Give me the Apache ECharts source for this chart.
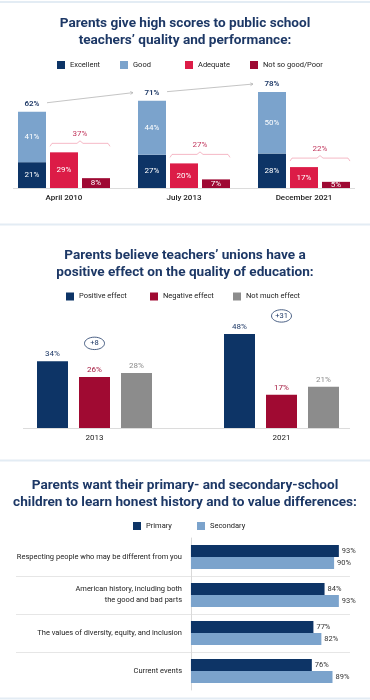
<!DOCTYPE html>
<html><head><meta charset="utf-8">
<script src="https://cdn.jsdelivr.net/npm/echarts@6/dist/echarts.min.js"></script>
<style>html,body{margin:0;padding:0;background:#fff}#c{width:370px;height:700px}</style>
</head><body><div id="c"></div>
<script>
// ---------- data ----------
const c1Categories = ['April 2010', 'July 2013', 'December 2021'];
const c1Excellent = [21, 27, 28];
const c1Good = [41, 44, 50];
const c1Total = [62, 71, 78];
const c1Adequate = [29, 20, 17];
const c1Poor = [8, 7, 5];
const c1NotGoodTotal = [37, 27, 22];

const c2Categories = ['2013', '2021'];
const c2Positive = [34, 48];
const c2Negative = [26, 17];
const c2NotMuch = [28, 21];
const c2Change = ['+8', '+31'];

const c3Categories = [
  'Respecting people who may be different from you',
  'American history, including both\nthe good and bad parts',
  'The values of diversity, equity, and inclusion',
  'Current events'
];
const c3Primary = [93, 84, 77, 76];
const c3Secondary = [90, 93, 82, 89];

// ---------- styles ----------
const FONT = 'Roboto, "Noto Sans", sans-serif';
const NAVY = '#0d3466';
const TITLE = '#1d3866';
const LIGHTBLUE = '#7ba3cc';
const CRIMSON = '#dc1c47';
const DARKRED = '#9e0933';
const GRAY = '#8c8c8c';
const C1_BAR = 28, C1_GAP = 4;
const C2_BAR = 31, C2_GAP = 11;

function pct(p) { return p.value + '%'; }

function renderC1(params, api) {
  const i = api.value(0);
  const off = C1_BAR + C1_GAP;
  const t = api.coord([i, c1Total[i]]);
  const lx = t[0] - off, ly = t[1] - 8;
  const ch = [];
  ch.push({type: 'text', x: lx, y: ly, style: {text: c1Total[i] + '%', fill: TITLE, font: '600 8px ' + FONT, textAlign: 'center', textVerticalAlign: 'middle'}});
  if (i < c1Total.length - 1) {
    const n = api.coord([i + 1, c1Total[i + 1]]);
    const x1 = lx + 15, y1 = ly - 1, x2 = n[0] - off - 19, y2 = n[1] - 8;
    const a = Math.atan2(y2 - y1, x2 - x1);
    const L = 3;
    ch.push({type: 'line', shape: {x1, y1, x2, y2}, style: {stroke: '#b5b5b5', lineWidth: 0.8}});
    ch.push({type: 'polyline', shape: {points: [
      [x2 - L * Math.cos(a - 0.5), y2 - L * Math.sin(a - 0.5)], [x2, y2],
      [x2 - L * Math.cos(a + 0.5), y2 - L * Math.sin(a + 0.5)]]},
      style: {stroke: '#b5b5b5', lineWidth: 0.8, fill: null}});
  }
  const b = api.coord([i, Math.max(c1Adequate[i], c1Poor[i])]);
  const bx1 = b[0] - C1_BAR / 2, bx2 = b[0] + off + C1_BAR / 2, mid = (bx1 + bx2) / 2, by = b[1] - 9;
  ch.push({type: 'polyline', shape: {points: [[bx1, by + 3], [bx1 + 2, by], [mid - 3, by], [mid, by - 2.5], [mid + 3, by], [bx2 - 2, by], [bx2, by + 3]]},
    style: {stroke: '#f2a7b8', lineWidth: 0.8, fill: null}});
  ch.push({type: 'text', x: mid, y: by - 9, style: {text: c1NotGoodTotal[i] + '%', fill: '#c2385e', font: '8px ' + FONT, textAlign: 'center', textVerticalAlign: 'middle'}});
  return {type: 'group', children: ch};
}

function renderC2(params, api) {
  const i = api.value(0);
  const p = api.coord([i, c2Positive[i]]);
  const cx = p[0], cy = p[1] - 18;
  return {type: 'group', children: [
    {type: 'ellipse', shape: {cx, cy, rx: 10, ry: 6.2}, style: {stroke: TITLE, lineWidth: 0.8, fill: '#fff'}},
    {type: 'text', x: cx, y: cy, style: {text: c2Change[i], fill: TITLE, font: '7.5px ' + FONT, textAlign: 'center', textVerticalAlign: 'middle'}}
  ]};
}

const legendBase = {orient: 'horizontal', padding: 0, itemWidth: 8, itemHeight: 8, icon: 'rect', selectedMode: false,
  textStyle: {fontSize: 7.5, color: '#222', fontFamily: FONT}};
function lg(name, left, cy) { return Object.assign({}, legendBase, {data: [name], left: left, top: cy - 5}); }

const titleStyle = {fontSize: 13.6, fontWeight: 'bold', color: TITLE, lineHeight: 17, fontFamily: FONT};

const option = {
  animation: false,
  textStyle: {fontFamily: FONT},
  title: [
    {text: 'Parents give high scores to public school\nteachers’ quality and performance:', left: 'center', top: 15.5, padding: 0, textStyle: titleStyle},
    {text: 'Parents believe teachers’ unions have a\npositive effect on the quality of education:', left: 'center', top: 247.5, padding: 0, textStyle: titleStyle},
    {text: 'Parents want their primary- and secondary-school\nchildren to learn honest history and to value differences:', left: 'center', top: 477.5, padding: 0, textStyle: titleStyle}
  ],
  legend: [
    lg('Excellent', 57, 66), lg('Good', 120, 66), lg('Adequate', 185, 66), lg('Not so good/Poor', 250, 66),
    lg('Positive effect', 66, 297.5), lg('Negative effect', 150, 297.5), lg('Not much effect', 233, 297.5),
    lg('Primary', 133, 527), lg('Secondary', 197, 527)
  ],
  graphic: [
    {type: 'rect', shape: {x: 0, y: 1, width: 370, height: 2}, style: {fill: '#e3ecf4'}},
    {type: 'rect', shape: {x: 0, y: 223.5, width: 370, height: 2}, style: {fill: '#e3ecf4'}},
    {type: 'rect', shape: {x: 0, y: 459.5, width: 370, height: 2}, style: {fill: '#e3ecf4'}},
    {type: 'rect', shape: {x: 0, y: 697.5, width: 370, height: 2}, style: {fill: '#e3ecf4'}},
    {type: 'line', shape: {x1: 13, y1: 188.5, x2: 355, y2: 188.5}, style: {stroke: '#dcdcdc', lineWidth: 1}},
    {type: 'line', shape: {x1: 23, y1: 428.5, x2: 350, y2: 428.5}, style: {stroke: '#dcdcdc', lineWidth: 1}}
  ],
  grid: [
    {left: 4, width: 360, top: 65, height: 123, outerBoundsMode: 'none', containLabel: false},
    {left: 1, width: 374, top: 330, height: 98, outerBoundsMode: 'none', containLabel: false},
    {left: 16, width: 334, top: 538, height: 152, outerBoundsMode: 'none', containLabel: false}
  ],
  xAxis: [
    {gridIndex: 0, type: 'category', data: c1Categories, axisLine: {show: false}, axisTick: {show: false},
      axisLabel: {margin: 6, fontSize: 8, color: '#222', fontWeight: 500}},
    {gridIndex: 1, type: 'category', data: c2Categories, axisLine: {show: false}, axisTick: {show: false},
      axisLabel: {margin: 6, fontSize: 8, color: '#222'}},
    {gridIndex: 2, type: 'value', min: -110, max: 100, show: false}
  ],
  yAxis: [
    {gridIndex: 0, type: 'value', min: 0, max: 100, show: false},
    {gridIndex: 1, type: 'value', min: 0, max: 50, show: false},
    {gridIndex: 2, type: 'category', data: c3Categories, inverse: true,
      axisLine: {show: true, onZero: true, lineStyle: {color: '#d9d9d9'}}, axisTick: {show: false},
      axisLabel: {margin: -166, fontSize: 7.5, color: '#222', lineHeight: 11, align: 'right'},
      splitLine: {show: true, lineStyle: {color: ['rgba(0,0,0,0)', '#e6e6e6', '#e6e6e6', '#e6e6e6', 'rgba(0,0,0,0)'], width: 1}}}
  ],
  series: [
    {name: 'Excellent', type: 'bar', xAxisIndex: 0, yAxisIndex: 0, stack: 'eg', data: c1Excellent, barWidth: C1_BAR, barGap: (C1_GAP / C1_BAR * 100) + '%',
      itemStyle: {color: NAVY}, label: {show: true, position: 'inside', color: '#fff', fontSize: 8, formatter: pct}},
    {name: 'Good', type: 'bar', xAxisIndex: 0, yAxisIndex: 0, stack: 'eg', data: c1Good, barWidth: C1_BAR,
      itemStyle: {color: LIGHTBLUE}, label: {show: true, position: 'inside', color: '#fff', fontSize: 8, formatter: pct}},
    {name: 'Adequate', type: 'bar', xAxisIndex: 0, yAxisIndex: 0, data: c1Adequate, barWidth: C1_BAR,
      itemStyle: {color: CRIMSON}, label: {show: true, position: 'inside', color: '#fff', fontSize: 8, formatter: pct}},
    {name: 'Not so good/Poor', type: 'bar', xAxisIndex: 0, yAxisIndex: 0, data: c1Poor, barWidth: C1_BAR,
      itemStyle: {color: DARKRED}, label: {show: true, position: 'inside', color: '#fff', fontSize: 8, formatter: pct}},
    {type: 'custom', xAxisIndex: 0, yAxisIndex: 0, renderItem: renderC1, z: 5,
      data: c1Categories.map((c, i) => [i, c1Total[i]])},

    {name: 'Positive effect', type: 'bar', xAxisIndex: 1, yAxisIndex: 1, data: c2Positive, barWidth: C2_BAR, barGap: (C2_GAP / C2_BAR * 100) + '%',
      itemStyle: {color: NAVY}, label: {show: true, position: 'top', distance: 3, color: TITLE, fontSize: 8, formatter: pct}},
    {name: 'Negative effect', type: 'bar', xAxisIndex: 1, yAxisIndex: 1, data: c2Negative, barWidth: C2_BAR,
      itemStyle: {color: '#a00a32'}, label: {show: true, position: 'top', distance: 3, color: '#a3163c', fontSize: 8, formatter: pct}},
    {name: 'Not much effect', type: 'bar', xAxisIndex: 1, yAxisIndex: 1, data: c2NotMuch, barWidth: C2_BAR,
      itemStyle: {color: GRAY}, label: {show: true, position: 'top', distance: 3, color: '#8a8a8a', fontSize: 8, formatter: pct}},
    {type: 'custom', xAxisIndex: 1, yAxisIndex: 1, renderItem: renderC2, z: 5,
      data: c2Categories.map((c, i) => [i, c2Positive[i]])},

    {name: 'Primary', type: 'bar', xAxisIndex: 2, yAxisIndex: 2, data: c3Primary, barWidth: 12, barGap: '0%',
      itemStyle: {color: NAVY}, label: {show: true, position: 'right', distance: 3, color: '#333', fontSize: 7.5, formatter: pct}},
    {name: 'Secondary', type: 'bar', xAxisIndex: 2, yAxisIndex: 2, data: c3Secondary, barWidth: 12,
      itemStyle: {color: LIGHTBLUE}, label: {show: true, position: 'right', distance: 3, color: '#333', fontSize: 7.5, formatter: pct}}
  ]
};
const chart = echarts.init(document.getElementById('c'), null, {renderer: 'canvas'});
chart.setOption(option);
</script></body></html>
